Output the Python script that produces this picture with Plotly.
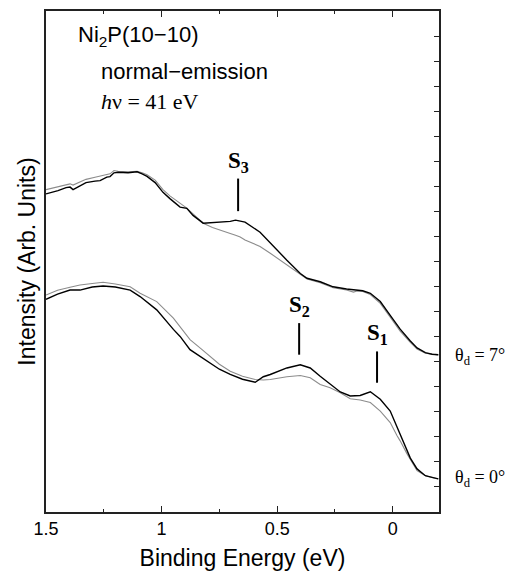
import plotly.graph_objects as go

# ---- data (binding energy in eV, intensity in arb. units) ----
x_top = [1.5, 1.448, 1.413, 1.396, 1.383, 1.361, 1.327, 1.288, 1.266, 1.237, 1.223, 1.206, 1.188, 1.145,
         1.106, 1.084, 1.063, 1.028, 0.994, 0.964, 0.92, 0.891, 0.864, 0.82, 0.78, 0.74, 0.703, 0.68, 0.66,
         0.639, 0.574, 0.53, 0.458, 0.40, 0.371, 0.314, 0.258, 0.20, 0.17, 0.155, 0.13, 0.097, 0.054, 0.011,
         -0.032, -0.076, -0.105, -0.141, -0.17, -0.197]
top_black = [12.70, 12.83, 12.95, 12.97, 12.87, 12.99, 13.15, 13.21, 13.23, 13.37, 13.39, 13.54, 13.56, 13.54,
             13.58, 13.50, 13.40, 13.15, 12.76, 12.51, 12.17, 12.12, 11.84, 11.53, 11.55, 11.56, 11.60, 11.65,
             11.62, 11.57, 11.17, 10.73, 10.05, 9.52, 9.33, 9.19, 8.99, 8.90, 8.86, 8.86, 8.83, 8.73, 8.40, 7.85,
             7.30, 6.83, 6.55, 6.36, 6.30, 6.28]
top_gray = [12.87, 13.00, 13.07, 13.10, 13.05, 13.15, 13.28, 13.36, 13.40, 13.48, 13.50, 13.63, 13.60, 13.58,
            13.60, 13.54, 13.46, 13.25, 12.87, 12.62, 12.33, 12.13, 11.90, 11.53, 11.36, 11.22, 11.12, 11.05,
            10.98, 10.86, 10.60, 10.33, 9.85, 9.50, 9.30, 9.15, 8.95, 8.86, 8.78, 8.82, 8.80, 8.68, 8.33, 7.78,
            7.22, 6.77, 6.50, 6.34, 6.29, 6.27]

x_bot = [1.5, 1.45, 1.396, 1.353, 1.30, 1.253, 1.20, 1.136, 1.093, 1.021, 0.949, 0.92, 0.877, 0.83, 0.79,
         0.75, 0.703, 0.65, 0.595, 0.56, 0.53, 0.458, 0.40, 0.357, 0.314, 0.271, 0.227, 0.184, 0.141, 0.097,
         0.054, 0.011, -0.018, -0.032, -0.06, -0.076, -0.105, -0.141, -0.17, -0.197]
bot_black = [8.49, 8.70, 8.86, 8.86, 8.98, 9.02, 8.98, 8.86, 8.60, 8.07, 7.29, 7.01, 6.48, 6.20, 5.95,
             5.70, 5.49, 5.30, 5.18, 5.40, 5.49, 5.75, 5.88, 5.75, 5.42, 5.09, 4.79, 4.63, 4.65, 4.80,
             4.50, 4.03, 3.40, 3.13, 2.45, 2.15, 1.72, 1.45, 1.38, 1.32]
bot_gray = [8.66, 8.85, 8.97, 9.06, 9.12, 9.17, 9.10, 8.99, 8.73, 8.40, 7.74, 7.40, 6.88, 6.52, 6.21,
            5.90, 5.62, 5.42, 5.29, 5.27, 5.29, 5.40, 5.45, 5.36, 5.09, 4.96, 4.76, 4.52, 4.47, 4.37,
            4.03, 3.57, 3.05, 2.84, 2.35, 2.12, 1.65, 1.45, 1.38, 1.32]

x_tickvals = [1.5, 1.0, 0.5, 0.0]
x_ticktext = ["1.5", "1", "0.5", "0"]
y_tickvals = list(range(0, 21))

# peak markers: label, x, y_low, y_high
peaks = [("S<sub>3</sub>", 0.669, 12.01, 13.31),
         ("S<sub>2</sub>", 0.405, 6.28, 7.54),
         ("S<sub>1</sub>", 0.068, 5.16, 6.41)]
angle_labels = [("θ<sub>d</sub> = 7°", 6.2), ("θ<sub>d</sub> = 0°", 1.32)]

SANS = "Liberation Sans, Arial, sans-serif"
SERIF = "Liberation Serif, Times New Roman, serif"

fig = go.Figure()
for xs, yg, yb in [(x_top, top_gray, top_black), (x_bot, bot_gray, bot_black)]:
    fig.add_trace(go.Scatter(x=xs, y=yg, mode="lines", line=dict(color="#8c8c8c", width=1.1),
                             showlegend=False, hoverinfo="skip"))
    fig.add_trace(go.Scatter(x=xs, y=yb, mode="lines", line=dict(color="black", width=1.4),
                             showlegend=False, hoverinfo="skip"))

# invisible trace for right y-axis
fig.add_trace(go.Scatter(x=[None], y=[None], yaxis="y2", showlegend=False, hoverinfo="skip"))

for label, px, ylo, yhi in peaks:
    fig.add_trace(go.Scatter(x=[px, px], y=[ylo, yhi], mode="lines", line=dict(color="black", width=2),
                             showlegend=False, hoverinfo="skip"))
    fig.add_annotation(x=px, y=yhi, text="<b>" + label + "</b>", showarrow=False, yanchor="bottom",
                       yshift=1, font=dict(family=SERIF, size=23, color="black"))

for label, yv in angle_labels:
    fig.add_annotation(xref="paper", x=1.036, y=yv, text=label, showarrow=False, xanchor="left",
                       yanchor="middle", font=dict(family=SERIF, size=18, color="black"))

fig.add_annotation(xref="paper", x=0.077, y=19.0, text="Ni<sub>2</sub>P(10−10)", showarrow=False,
                   xanchor="left", yanchor="middle", font=dict(family=SANS, size=22, color="black"))
fig.add_annotation(xref="paper", x=0.134, y=17.6, text="normal−emission", showarrow=False,
                   xanchor="left", yanchor="middle", font=dict(family=SANS, size=22, color="black"))
fig.add_annotation(xref="paper", x=0.134, y=16.4, text="<i>h</i>ν = 41 eV", showarrow=False,
                   xanchor="left", yanchor="middle", font=dict(family=SERIF, size=22, color="black"))

fig.update_layout(
    width=507, height=576,
    margin=dict(l=46, r=68, t=9, b=63),
    paper_bgcolor="white", plot_bgcolor="white",
    xaxis=dict(range=[1.5, -0.2], tickvals=x_tickvals, ticktext=x_ticktext, ticks="inside", ticklen=6,
               tickwidth=1.3, tickcolor="#222", showline=True, linecolor="#222", linewidth=1.5,
               mirror="ticks", showgrid=False, zeroline=False,
               minor=dict(tickvals=[1.25, 0.75, 0.25], ticks="inside", ticklen=3.5, tickwidth=1.2,
                          tickcolor="#222"),
               tickfont=dict(family=SANS, size=18, color="black"),
               title=dict(text="Binding Energy (eV)", font=dict(family=SANS, size=23, color="black"),
                          standoff=12)),
    yaxis=dict(range=[0, 20], showticklabels=False, ticks="", showline=True, linecolor="#222",
               linewidth=1.5, mirror=True, showgrid=False, zeroline=False,
               title=dict(text="Intensity (Arb. Units)", font=dict(family=SANS, size=23, color="black"),
                          standoff=2)),
    yaxis2=dict(range=[0, 20], overlaying="y", side="right", tickvals=y_tickvals, ticks="inside",
                ticklen=5, tickwidth=1.3, tickcolor="#222", showticklabels=False, showline=False,
                showgrid=False, zeroline=False),
)

fig.write_html("out.html", config={"displayModeBar": False},
               post_script="document.body.style.margin='0';document.body.style.padding='0';")
